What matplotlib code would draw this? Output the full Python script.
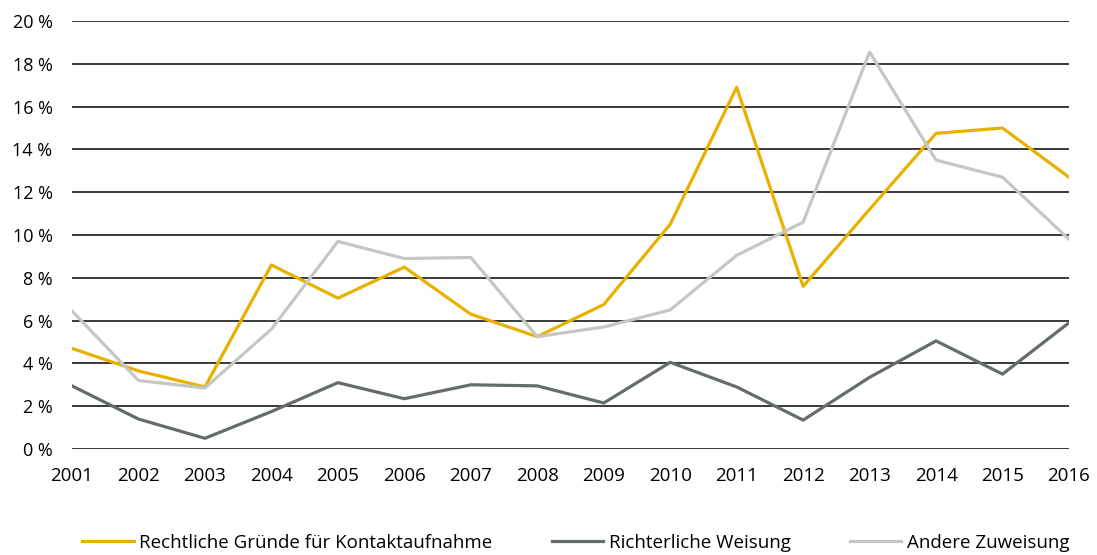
import matplotlib.pyplot as plt

plt.rcParams['font.family'] = ['Open Sans', 'DejaVu Sans']

years = list(range(2001, 2017))
rechtliche = [4.7, 3.65, 2.9, 8.6, 7.05, 8.5, 6.3, 5.25, 6.75, 10.5, 16.9, 7.6, 11.2, 14.75, 15.0, 12.7]
richterliche = [2.95, 1.4, 0.5, 1.75, 3.1, 2.35, 3.0, 2.95, 2.15, 4.05, 2.9, 1.35, 3.35, 5.05, 3.5, 5.9]
andere = [6.45, 3.2, 2.85, 5.6, 9.7, 8.9, 8.95, 5.25, 5.7, 6.5, 9.05, 10.6, 18.55, 13.5, 12.7, 9.8]

labels = ['Rechtliche Gründe für Kontaktaufnahme', 'Richterliche Weisung', 'Andere Zuweisung']
colors = ['#E8B100', '#646D68', '#C4C7C6']
yticks = list(range(0, 21, 2))

fig = plt.figure(figsize=(10.97, 5.55), dpi=100)
ax = fig.add_axes([72 / 1097, 1 - 449 / 555, (1069 - 72) / 1097, (449 - 21) / 555])

# horizontal grid lines behind the series
for t in yticks:
    ax.axhline(t, color='#2b2b2b', lw=1.3, zorder=1)

handles = []
for vals, lab, col in zip([rechtliche, richterliche, andere], labels, colors):
    h, = ax.plot(years, vals, color=col, lw=2.3, label=lab, zorder=3)
    handles.append(h)

ax.set_xlim(2001, 2016)
ax.set_ylim(0, 20)
ax.set_xticks(years)
ax.set_xticklabels([str(y) for y in years], fontsize=13.5)
ax.set_yticks(yticks)
ax.set_yticklabels([f'{t} %' for t in yticks], fontsize=13)
ax.tick_params(length=0)
ax.tick_params(axis='x', pad=13)
ax.tick_params(axis='y', pad=14)
for s in ax.spines.values():
    s.set_visible(False)

fig.legend(handles, labels, loc='center', bbox_to_anchor=(0.525, 1 - 543 / 555), ncol=3,
           frameon=False, fontsize=13.5, handlelength=2.75, handletextpad=0.3,
           columnspacing=3.15)

fig.savefig('out.png', dpi=100)
